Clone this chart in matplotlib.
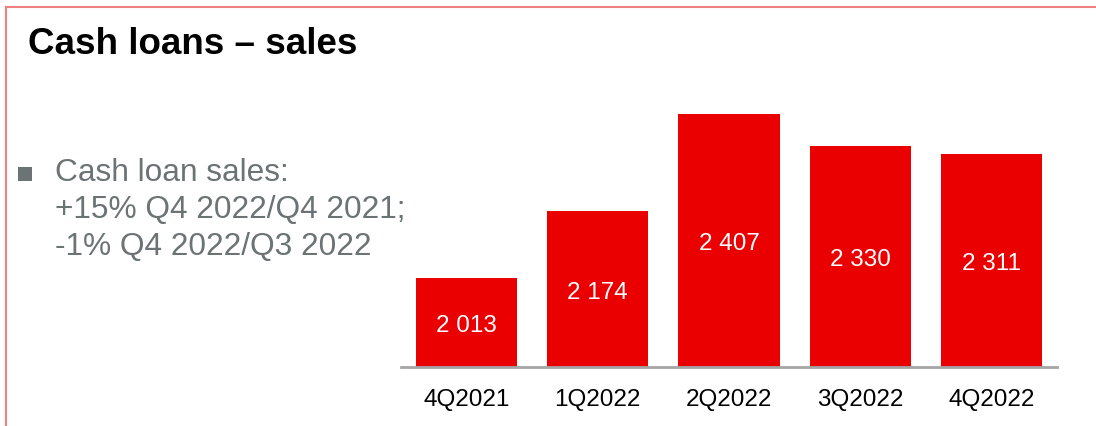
import matplotlib
matplotlib.use('Agg')
import matplotlib.pyplot as plt
from matplotlib.lines import Line2D
from matplotlib.patches import Rectangle

plt.rcParams['font.family'] = ['Liberation Sans', 'DejaVu Sans']

# data
quarters = ['4Q2021', '1Q2022', '2Q2022', '3Q2022', '4Q2022']
sales = [2013, 2174, 2407, 2330, 2311]
bar_labels = ['2 013', '2 174', '2 407', '2 330', '2 311']
title = 'Cash loans – sales'
note_lines = ['Cash loan sales:', '+15% Q4 2022/Q4 2021;', '-1% Q4 2022/Q3 2022']

BAR_RED = '#ea0000'
TEXT_GREY = '#6b7375'
W, H = 1096, 427

fig = plt.figure(figsize=(W / 100, H / 100), dpi=100)

# thin frame around the slide (top + left only visible)
frame_col = '#f08080'
fig.add_artist(Line2D([6 / W, 1.0], [1 - 7.5 / H, 1 - 7.5 / H], color=frame_col, lw=1.5))
fig.add_artist(Line2D([6 / W, 6 / W], [0.0, 1 - 7.5 / H], color=frame_col, lw=1.5))

fig.text(28 / W, 1 - 44 / H, title, fontsize=26.5, fontweight='bold',
         color='black', ha='left', va='center')

# bullet + commentary
fig.add_artist(Rectangle((18 / W, 1 - 182 / H), 14 / W, 14 / H,
                         transform=fig.transFigure, color=TEXT_GREY, lw=0))
for i, line in enumerate(note_lines):
    fig.text(55 / W, 1 - (173.5 + i * 36.8) / H, line, fontsize=22.8,
             color=TEXT_GREY, ha='left', va='center')

ax = fig.add_axes([401 / W, 59 / H, 656 / W, 268 / H])
x = range(len(quarters))
bars = ax.bar(x, sales, width=0.77, color=BAR_RED, zorder=2)
ymin = 1800
for b, lab in zip(bars, bar_labels):
    ax.text(b.get_x() + b.get_width() / 2, (ymin + b.get_height()) / 2, lab,
            ha='center', va='center_baseline', color='white', fontsize=17.5)

ax.set_ylim(ymin, 2443)
ax.set_xlim(-0.5, len(quarters) - 0.5)
ax.set_xticks(list(x))
ax.set_xticklabels(quarters, fontsize=17.5)
ax.tick_params(axis='x', length=0, pad=15)
ax.set_yticks([])
for s in ['top', 'right', 'left']:
    ax.spines[s].set_visible(False)
ax.spines['bottom'].set_color('#a6a6a6')
ax.spines['bottom'].set_linewidth(2)
ax.patch.set_alpha(0)

fig.savefig('out.png', dpi=100)
